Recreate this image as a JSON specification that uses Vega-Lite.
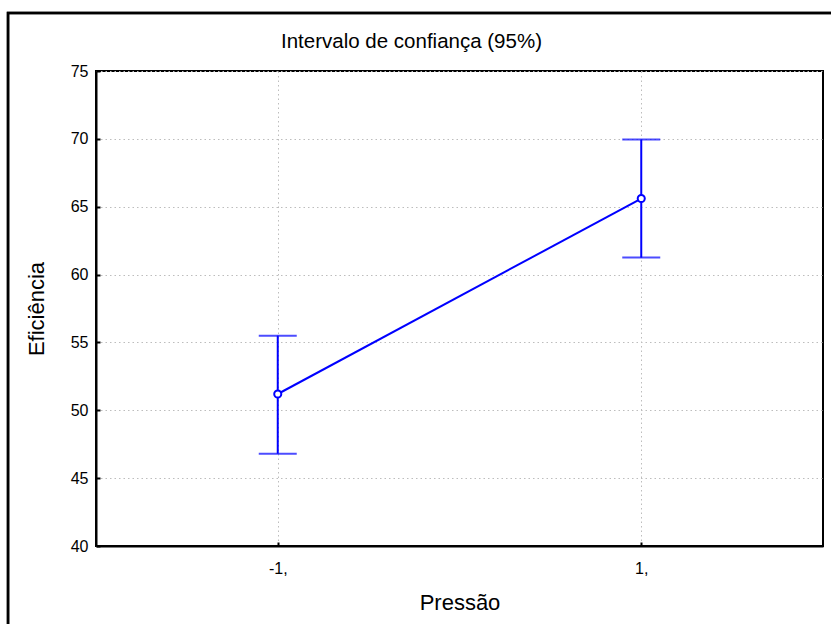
{
  "$schema": "https://vega.github.io/schema/vega-lite/v6.json",
  "autosize": {"type": "none"},
  "width": 727,
  "height": 475,
  "padding": {"left": 96, "top": 71, "right": 8, "bottom": 78},
  "background": "white",
  "title": {
    "text": "Intervalo de confiança (95%)",
    "font": "Liberation Sans",
    "fontSize": 20.5,
    "fontWeight": "normal",
    "color": "black",
    "anchor": "middle",
    "dx": -48,
    "offset": 0,
    "dy": 41
  },
  "data": {
    "values": [
      {"pressao": -1, "mean": 51.2, "lo": 46.8, "hi": 55.5},
      {"pressao": 1, "mean": 65.6, "lo": 61.25, "hi": 69.95}
    ]
  },
  "config": {
    "view": {"stroke": "black", "strokeWidth": 2},
    "font": "Liberation Sans",
    "axis": {
      "grid": true,
      "domainColor": "black",
      "domainWidth": 2,
      "tickColor": "black",
      "tickWidth": 2,
      "labelColor": "black",
      "labelFont": "Liberation Sans",
      "labelFontSize": 16,
      "titleFont": "Liberation Sans",
      "titleFontSize": 22,
      "titleFontWeight": "normal",
      "titleColor": "black",
      "gridColor": "#bdbdbd",
      "gridDash": [1.5, 3],
      "gridWidth": 1
    }
  },
  "layer": [
    {
      "mark": {"type": "rule", "color": "#0000ff", "strokeWidth": 2},
      "encoding": {
        "x": {
          "field": "pressao",
          "type": "quantitative",
          "scale": {"domain": [-2, 2], "nice": false, "zero": false},
          "axis": {
            "values": [-1, 1],
            "grid": true,
            "labelExpr": "datum.value + ','",
            "title": "Pressão",
            "tickSize": -4,
            "labelPadding": 18,
            "titlePadding": 16
          }
        },
        "y": {
          "field": "lo",
          "type": "quantitative",
          "scale": {"domain": [40, 75], "nice": false, "zero": false},
          "axis": {
            "values": [40, 45, 50, 55, 60, 65, 70, 75],
            "grid": true,
            "title": "Eficiência",
            "tickSize": -4,
            "labelPadding": 12,
            "titlePadding": 22
          }
        },
        "y2": {"field": "hi"}
      }
    },
    {
      "mark": {"type": "tick", "orient": "horizontal", "color": "#0000ff", "size": 38, "thickness": 2},
      "encoding": {
        "x": {"field": "pressao", "type": "quantitative"},
        "y": {"field": "lo", "type": "quantitative"}
      }
    },
    {
      "mark": {"type": "tick", "orient": "horizontal", "color": "#0000ff", "size": 38, "thickness": 2},
      "encoding": {
        "x": {"field": "pressao", "type": "quantitative"},
        "y": {"field": "hi", "type": "quantitative"}
      }
    },
    {
      "mark": {"type": "line", "color": "#0000ff", "strokeWidth": 2},
      "encoding": {
        "x": {"field": "pressao", "type": "quantitative"},
        "y": {"field": "mean", "type": "quantitative"}
      }
    },
    {
      "mark": {"type": "point", "filled": true, "fill": "white", "stroke": "#0000ff", "strokeWidth": 2, "size": 50, "opacity": 1},
      "encoding": {
        "x": {"field": "pressao", "type": "quantitative"},
        "y": {"field": "mean", "type": "quantitative"}
      }
    },
    {
      "mark": {"type": "rect", "fill": null, "stroke": "black", "strokeWidth": 2.5, "clip": false},
      "encoding": {
        "x": {"datum": -2.484, "type": "quantitative"},
        "x2": {"datum": 2.6},
        "y": {"datum": 79.27, "type": "quantitative"},
        "y2": {"datum": 30}
      }
    }
  ]
}
